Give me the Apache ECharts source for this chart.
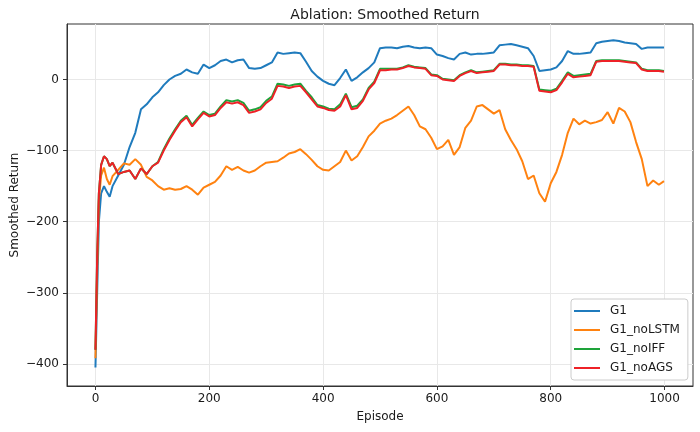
<!DOCTYPE html>
<html>
<head>
<meta charset="utf-8">
<script src="https://cdn.jsdelivr.net/npm/echarts@6/dist/echarts.min.js"></script>
<style>
html,body{margin:0;padding:0;background:#fff;}
#chart{width:700px;height:432px;}
</style>
</head>
<body>
<div id="chart"></div>
<script>
var episodes = [0,3,6,10,15,20,25,30,40,50,60,70,80,90,100,110,120,130,140,150,160,170,180,190,200,210,220,230,240,250,260,270,280,290,300,310,320,330,340,350,360,370,380,390,400,410,420,430,440,450,460,470,480,490,500,510,520,530,540,550,560,570,580,590,600,610,620,630,640,650,660,670,680,690,700,710,720,730,740,750,760,770,780,790,800,810,820,830,840,850,860,870,880,890,900,910,920,930,940,950,960,970,980,990,999];

var seriesNames = ['G1','G1_noLSTM','G1_noIFF','G1_noAGS'];

var g1 = [-405,-300,-200,-160,-150,-158,-165,-150,-135,-120,-95,-75,-42,-35,-25,-18,-8,0,5,8,14,10,8,21,16,20,26,28,24,27,28,16,15,16,20,24,38,36,37,38,37,25,12,4,-2,-6,-8,2,14,-2,3,10,16,24,44,45,45,44,46,47,45,44,45,44,35,33,30,28,36,38,35,36,36,37,38,48,49,50,48,46,44,33,12,13,14,17,26,40,36,36,37,38,51,53,54,55,54,52,51,50,43,45,45,45,45];

var g1NoLSTM = [-392,-270,-170,-135,-124,-140,-148,-136,-127,-118,-120,-112,-120,-137,-142,-150,-155,-153,-155,-154,-150,-155,-162,-152,-148,-144,-135,-122,-127,-123,-128,-131,-128,-122,-117,-116,-115,-110,-104,-102,-98,-105,-113,-122,-127,-128,-122,-116,-100,-114,-108,-95,-80,-72,-62,-58,-55,-50,-44,-38,-50,-66,-70,-82,-98,-94,-85,-106,-95,-68,-58,-38,-36,-42,-48,-43,-70,-85,-98,-115,-140,-135,-160,-172,-146,-130,-106,-75,-55,-63,-58,-62,-60,-57,-46,-62,-40,-45,-60,-88,-112,-150,-142,-148,-143];

var g1NoIFF = [-380,-250,-160,-120,-108,-112,-122,-117,-133,-130,-128,-140,-125,-133,-122,-116,-98,-83,-70,-58,-51,-64,-54,-45,-50,-48,-38,-29,-31,-29,-33,-44,-42,-39,-30,-24,-6,-7,-9,-7,-6,-16,-25,-36,-38,-41,-42,-35,-20,-39,-37,-28,-12,-3,15,15,15,15,17,20,18,17,16,7,6,1,0,-1,6,10,13,10,11,12,13,22,22,21,21,20,20,19,-14,-15,-16,-13,-2,10,5,6,7,8,26,27,27,27,27,26,25,24,15,13,13,13,12];

var g1NoAGS = [-380,-250,-160,-120,-108,-112,-122,-117,-133,-130,-128,-140,-125,-133,-122,-117,-100,-85,-72,-60,-53,-66,-56,-47,-52,-50,-40,-32,-34,-32,-36,-47,-45,-42,-33,-27,-9,-10,-12,-10,-9,-18,-28,-38,-40,-43,-44,-38,-22,-42,-40,-30,-14,-5,13,13,14,14,16,19,17,16,15,6,5,0,-1,-2,5,9,12,9,10,11,12,21,21,20,20,19,19,18,-16,-17,-18,-15,-4,8,3,4,5,6,25,26,26,26,26,25,24,23,14,12,12,12,11];

var xTicks = [0,200,400,600,800,1000];
var yTicks = [-400,-300,-200,-100,0];

var colors = ['#1f7bbd','#ff8210','#1ea33a','#ee2127'];
var allValues = [g1, g1NoLSTM, g1NoIFF, g1NoAGS];

function pairs(vals){
  return episodes.map(function(e,i){ return [e, vals[i]]; });
}
function fmt(v){ return String(v).replace('-', '\u2212'); }

var chart = echarts.init(document.getElementById('chart'), null, {renderer:'canvas'});
var font = 'DejaVu Sans';
var option = {
  animation: false,
  backgroundColor: '#ffffff',
  title: {
    text: 'Ablation: Smoothed Return',
    left: 380, top: 3, textAlign: 'center',
    textStyle: {fontFamily: font, fontSize: 14, fontWeight: 'normal', color: '#1a1a1a'}
  },
  grid: {left: 67, right: 7, top: 24, bottom: 46, show: true, borderColor: '#333', borderWidth: 1, backgroundColor: 'transparent', containLabel: false, outerBoundsMode: 'none'},
  legend: {
    orient: 'vertical', left: 571, top: 299,
    data: seriesNames,
    icon: 'rect', itemWidth: 26, itemHeight: 2, itemGap: 5,
    backgroundColor: '#fff', borderColor: '#cccccc', borderWidth: 1, borderRadius: 3,
    padding: [5, 8, 5, 3],
    textStyle: {fontFamily: font, fontSize: 12, color: '#1a1a1a', lineHeight: 14, padding: [0,0,0,5]}
  },
  xAxis: {
    type: 'value', min: -50, max: 1050,
    name: 'Episode', nameLocation: 'middle', nameGap: 25, nameMoveOverlap: false,
    nameTextStyle: {fontFamily: font, fontSize: 12, color: '#1a1a1a'},
    axisLine: {onZero: false, lineStyle: {color: '#333', width: 1}},
    axisTick: {show: true, inside: false, length: 4, lineStyle: {color: '#333'}, customValues: xTicks},
    axisLabel: {fontFamily: font, fontSize: 12, color: '#1a1a1a', margin: 7, customValues: xTicks, formatter: fmt},
    splitLine: {show: true, lineStyle: {color: '#e8e8e8', width: 1}}
  },
  yAxis: {
    type: 'value', min: -431, max: 78,
    name: 'Smoothed Return', nameLocation: 'middle', nameGap: 46, nameMoveOverlap: false,
    nameTextStyle: {fontFamily: font, fontSize: 12, color: '#1a1a1a'},
    axisLine: {show: true, onZero: false, lineStyle: {color: '#333', width: 1}},
    axisTick: {show: true, inside: false, length: 4, lineStyle: {color: '#333'}, customValues: yTicks},
    axisLabel: {fontFamily: font, fontSize: 12, color: '#1a1a1a', margin: 8, customValues: yTicks, formatter: fmt},
    splitLine: {show: true, lineStyle: {color: '#e8e8e8', width: 1}}
  },
  series: seriesNames.map(function(n, i){
    return {
      name: n, type: 'line', data: pairs(allValues[i]),
      showSymbol: false, symbol: 'none',
      lineStyle: {width: 2, color: colors[i]},
      itemStyle: {color: colors[i]},
      z: 2 + i
    };
  })
};
chart.setOption(option);
</script>
</body>
</html>
